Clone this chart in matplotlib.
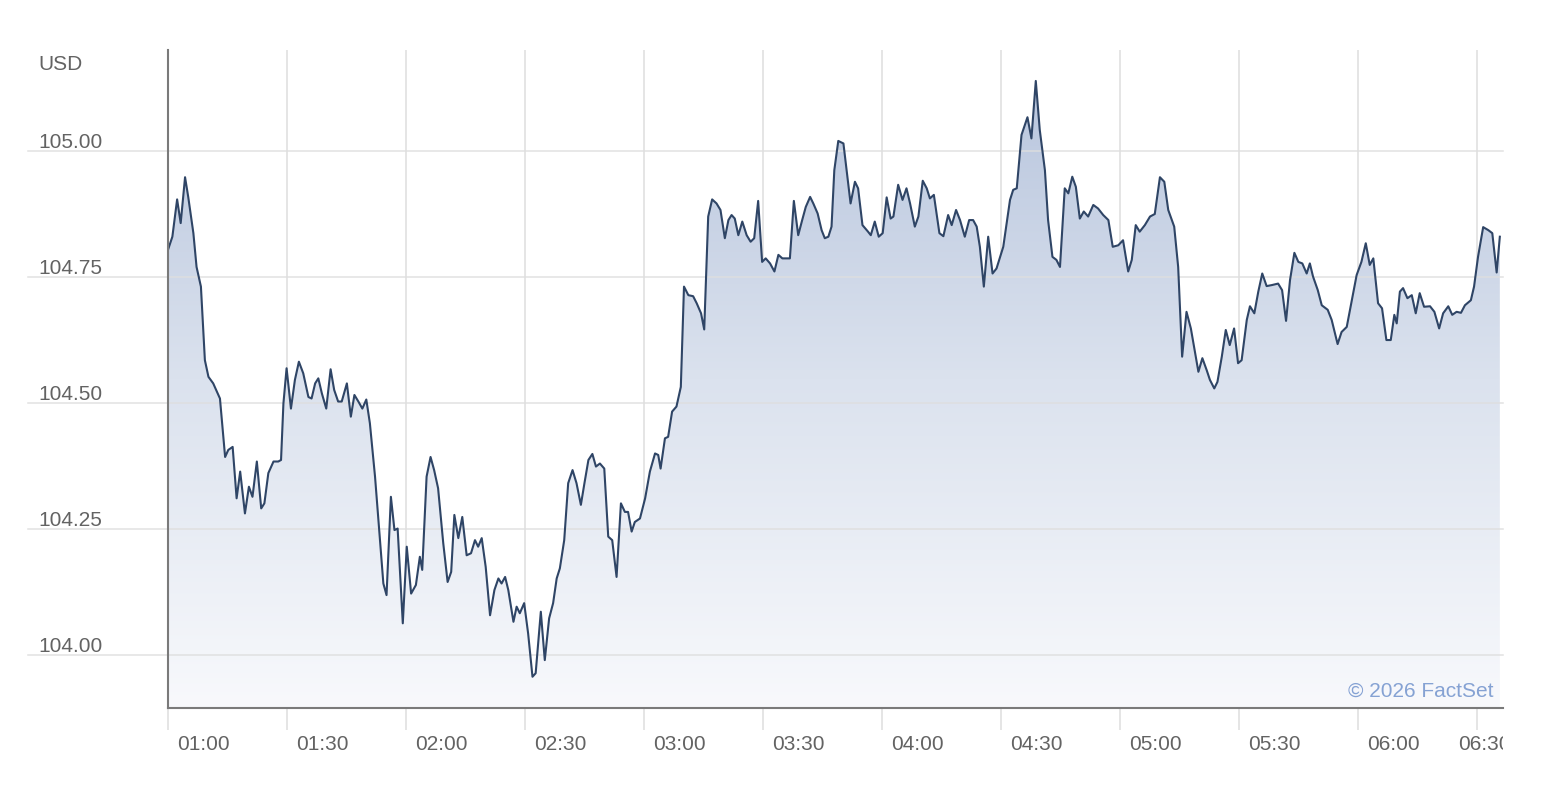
import numpy as np
import matplotlib
matplotlib.use("Agg")
import matplotlib.pyplot as plt
from matplotlib import transforms
from matplotlib.transforms import Bbox, TransformedBbox
from matplotlib.colors import LinearSegmentedColormap

# ---------------- data ----------------
# minutes after 01:00
minutes = [
    0.0, 1.1, 2.3, 3.2, 4.3, 5.1, 6.4, 7.2, 8.3, 9.3,
    10.2, 11.4, 13.1, 14.4, 15.2, 16.3, 17.3, 18.2, 19.4, 20.4,
    21.3, 22.4, 23.5, 24.3, 25.3, 26.6, 27.8, 28.5, 29.1, 29.9,
    31.0, 32.0, 33.0, 34.1, 35.4, 36.2, 37.1, 37.9, 38.8, 39.9,
    41.0, 41.9, 42.9, 43.8, 45.1, 46.1, 47.0, 48.0, 49.0, 50.0,
    50.9, 52.2, 53.5, 54.3, 55.1, 56.2, 57.1, 57.9, 59.2, 60.2,
    61.3, 62.5, 63.5, 64.1, 65.2, 66.2, 67.1, 68.1, 69.4, 70.5,
    71.4, 72.2, 73.2, 74.2, 75.3, 76.4, 77.4, 78.2, 79.1, 80.1,
    81.2, 82.3, 83.3, 84.1, 85.0, 85.8, 87.1, 87.9, 88.7, 89.8,
    90.8, 91.9, 92.7, 94.0, 95.0, 96.1, 97.1, 98.0, 98.8, 99.9,
    100.9, 102.0, 103.0, 104.1, 105.0, 106.0, 107.0, 107.9, 108.9, 110.0,
    111.0, 112.0, 113.1, 114.2, 115.2, 116.0, 116.9, 117.7, 119.0, 120.3,
    121.5, 122.8, 123.6, 124.2, 125.3, 126.1, 127.1, 128.2, 129.3, 130.1,
    131.2, 132.4, 133.3, 134.4, 135.2, 136.2, 137.2, 138.3, 139.3, 140.4,
    141.3, 142.1, 142.9, 143.8, 144.8, 145.9, 146.9, 147.8, 148.8, 149.8,
    150.7, 151.8, 152.9, 153.9, 154.9, 156.8, 157.8, 158.9, 159.9, 160.8,
    161.9, 162.7, 163.8, 164.8, 165.6, 166.5, 167.3, 168.0, 169.0, 170.3,
    172.1, 173.2, 174.0, 175.1, 176.5, 177.2, 178.2, 179.2, 180.2, 181.2,
    182.2, 182.9, 184.1, 185.2, 186.2, 187.1, 188.3, 189.2, 190.3, 191.3,
    192.1, 193.1, 194.5, 195.5, 196.7, 197.6, 198.7, 199.7, 200.9, 202.0,
    203.0, 203.9, 204.7, 205.7, 206.8, 207.9, 208.9, 210.6, 212.3, 213.1,
    214.0, 215.2, 216.7, 217.7, 218.8, 219.8, 221.1, 221.9, 223.0, 224.0,
    224.9, 226.1, 227.0, 228.0, 228.9, 229.9, 230.9, 232.0, 233.3, 234.5,
    235.8, 237.1, 238.2, 239.6, 240.8, 242.1, 243.0, 244.0, 245.0, 246.3,
    247.6, 248.8, 250.1, 251.2, 252.2, 253.7, 254.7, 255.7, 256.8, 257.9,
    258.7, 259.8, 260.8, 261.9, 262.7, 263.8, 264.6, 265.7, 266.7, 267.7,
    268.8, 269.8, 270.7, 272.0, 272.8, 273.9, 274.9, 275.9, 277.0, 278.3,
    279.9, 280.9, 281.9, 282.9, 284.0, 285.0, 286.0, 287.1, 287.9, 288.7,
    289.9, 290.9, 292.4, 293.4, 294.9, 295.9, 297.2, 298.4, 299.7, 300.9,
    302.0, 303.0, 303.9, 305.1, 306.1, 307.2, 308.3, 309.2, 309.8, 310.6,
    311.4, 312.5, 313.6, 314.6, 315.6, 316.7, 318.2, 319.3, 320.5, 321.5,
    322.8, 323.8, 324.9, 326.0, 327.0, 328.5, 329.3, 330.3, 331.6, 332.9,
    333.9, 335.0, 335.8,
]

prices = [
    104.804, 104.830, 104.904, 104.857, 104.948, 104.909, 104.837, 104.770, 104.731, 104.585,
    104.552, 104.539, 104.509, 104.393, 104.407, 104.413, 104.311, 104.364, 104.281, 104.334,
    104.314, 104.384, 104.291, 104.301, 104.361, 104.384, 104.384, 104.387, 104.499, 104.569,
    104.489, 104.546, 104.582, 104.559, 104.512, 104.509, 104.539, 104.549, 104.519, 104.489,
    104.567, 104.526, 104.503, 104.503, 104.539, 104.473, 104.516, 104.503, 104.489, 104.507,
    104.460, 104.354, 104.222, 104.142, 104.119, 104.314, 104.248, 104.251, 104.063, 104.215,
    104.122, 104.139, 104.195, 104.169, 104.354, 104.393, 104.367, 104.331, 104.222, 104.145,
    104.165, 104.278, 104.232, 104.274, 104.198, 104.202, 104.228, 104.215, 104.232, 104.175,
    104.079, 104.129, 104.152, 104.142, 104.155, 104.129, 104.066, 104.096, 104.083, 104.103,
    104.043, 103.957, 103.964, 104.086, 103.990, 104.073, 104.103, 104.152, 104.172, 104.228,
    104.341, 104.367, 104.341, 104.298, 104.341, 104.387, 104.399, 104.374, 104.380, 104.370,
    104.235, 104.228, 104.155, 104.301, 104.284, 104.284, 104.245, 104.264, 104.271, 104.311,
    104.364, 104.400, 104.397, 104.370, 104.430, 104.433, 104.483, 104.493, 104.532, 104.731,
    104.714, 104.712, 104.698, 104.678, 104.646, 104.870, 104.904, 104.896, 104.883, 104.827,
    104.863, 104.873, 104.866, 104.833, 104.860, 104.833, 104.820, 104.827, 104.901, 104.780,
    104.787, 104.777, 104.761, 104.794, 104.787, 104.787, 104.901, 104.833, 104.863, 104.889,
    104.909, 104.896, 104.876, 104.843, 104.827, 104.830, 104.850, 104.962, 105.020, 105.015,
    104.896, 104.939, 104.926, 104.853, 104.840, 104.833, 104.860, 104.830, 104.837, 104.908,
    104.866, 104.870, 104.933, 104.903, 104.926, 104.896, 104.850, 104.870, 104.941, 104.926,
    104.906, 104.913, 104.837, 104.831, 104.873, 104.853, 104.883, 104.863, 104.830, 104.863,
    104.863, 104.850, 104.810, 104.731, 104.830, 104.757, 104.767, 104.810, 104.903, 104.923,
    104.926, 105.032, 105.067, 105.025, 105.139, 105.042, 104.962, 104.863, 104.790, 104.784,
    104.770, 104.926, 104.916, 104.949, 104.929, 104.866, 104.880, 104.870, 104.893, 104.886,
    104.873, 104.863, 104.810, 104.813, 104.823, 104.761, 104.784, 104.853, 104.840, 104.853,
    104.870, 104.875, 104.948, 104.939, 104.883, 104.850, 104.770, 104.592, 104.681, 104.648,
    104.612, 104.562, 104.589, 104.565, 104.546, 104.529, 104.542, 104.592, 104.645, 104.615,
    104.648, 104.579, 104.585, 104.665, 104.692, 104.678, 104.721, 104.757, 104.732, 104.734,
    104.737, 104.724, 104.663, 104.744, 104.798, 104.780, 104.777, 104.757, 104.777, 104.751,
    104.724, 104.694, 104.685, 104.665, 104.617, 104.641, 104.651, 104.701, 104.754, 104.780,
    104.817, 104.774, 104.787, 104.698, 104.688, 104.625, 104.625, 104.675, 104.658, 104.721,
    104.728, 104.708, 104.714, 104.678, 104.718, 104.691, 104.692, 104.681, 104.648, 104.678,
    104.692, 104.675, 104.681, 104.679, 104.694, 104.704, 104.731, 104.790, 104.849, 104.843,
    104.837, 104.759, 104.830,
]

xtick_minutes = [0, 30, 60, 90, 120, 150, 180, 210, 240, 270, 300, 330]
xtick_labels = ["01:00", "01:30", "02:00", "02:30", "03:00", "03:30",
                "04:00", "04:30", "05:00", "05:30", "06:00", "06:30"]
ytick_values = [104.00, 104.25, 104.50, 104.75, 105.00]
ytick_labels = ["104.00", "104.25", "104.50", "104.75", "105.00"]
unit_label = "USD"
credit = "\u00a9 2026 FactSet"

# ---------------- style ----------------
W, H = 1552, 786
plt.rcParams['font.family'] = ['Liberation Sans', 'DejaVu Sans']
TXT = '#636363'
GRID = '#dedede'
SPINE = '#7a7a7a'
LINE = '#2f4566'

fig = plt.figure(figsize=(W / 100, H / 100), dpi=100)
fig.patch.set_facecolor('white')
ax = fig.add_axes([168 / W, 1 - 708 / H, (1503 - 168) / W, (708 - 50) / H])
ax.set_facecolor('white')

x = np.array(minutes)
y = np.array(prices)
xmax = 336.6
ymin, ymax = 103.895, 105.2004
ax.set_xlim(0, xmax)
ax.set_ylim(ymin, ymax)

# gradient fill under the curve
poly = ax.fill_between(x, y, ymin, color='none', lw=0, zorder=2)
cmap = LinearSegmentedColormap.from_list('g', ['#f8f9fc', '#dbe2ee', '#b5c3dc'])
grad = np.linspace(0, 1, 256).reshape(-1, 1)
im = ax.imshow(grad, cmap=cmap, origin='lower', aspect='auto',
               extent=[0, xmax, ymin, ymax], zorder=2, interpolation='bicubic')
path = poly.get_paths()[0]
im.set_clip_path(path, transform=ax.transData)

ax.plot(x, y, color=LINE, lw=1.5, zorder=4, solid_joinstyle='round')

# grid
ax.set_xticks(xtick_minutes)
ax.set_xticklabels([])
ax.set_yticks([])
ax.grid(axis='x', color=GRID, lw=1.1, zorder=1)
ax.set_axisbelow(True)
for v in ytick_values:
    ax.axhline(v, xmin=-0.105, xmax=1.0, color=GRID, lw=1.1, zorder=3,
               clip_on=False, alpha=0.9)
ax.tick_params(axis='x', length=16, width=1.1, color=GRID, direction='out')
ax.tick_params(axis='y', length=0)

for s in ['top', 'right']:
    ax.spines[s].set_visible(False)
for s in ['left', 'bottom']:
    ax.spines[s].set_color(SPINE)
    ax.spines[s].set_linewidth(1.5)
    ax.spines[s].set_zorder(5)

# y labels
ytr = transforms.blended_transform_factory(fig.transFigure, ax.transData)
yoff = transforms.ScaledTranslation(0, 3.5 / 100, fig.dpi_scale_trans)
for v, lab in zip(ytick_values, ytick_labels):
    fig.text(38 / W, v, lab, transform=ytr + yoff, ha='left', va='baseline',
             fontsize=15, color=TXT)
fig.text(38 / W, 1 - 70 / H, unit_label, ha='left', va='baseline',
         fontsize=15, color=TXT)

# x labels
xtr = transforms.blended_transform_factory(ax.transData, fig.transFigure)
clipbox = TransformedBbox(Bbox([[0, 0], [1503 / W, 1]]), fig.transFigure)
for i, (m, lab) in enumerate(zip(xtick_minutes, xtick_labels)):
    dx = 9 if i < len(xtick_minutes) - 1 else -19
    off = transforms.ScaledTranslation(dx / 100, 0, fig.dpi_scale_trans)
    t = fig.text(m, 1 - 750 / H, lab, transform=xtr + off, ha='left',
                 va='baseline', fontsize=15, color=TXT)
    t.set_clip_box(clipbox)
    t.set_clip_on(True)

# credit
fig.text(1493 / W, 1 - 697 / H, credit, ha='right', va='baseline',
         fontsize=15, color='#85a2d3', zorder=6)

fig.savefig('out.png', dpi=100, facecolor='white')
